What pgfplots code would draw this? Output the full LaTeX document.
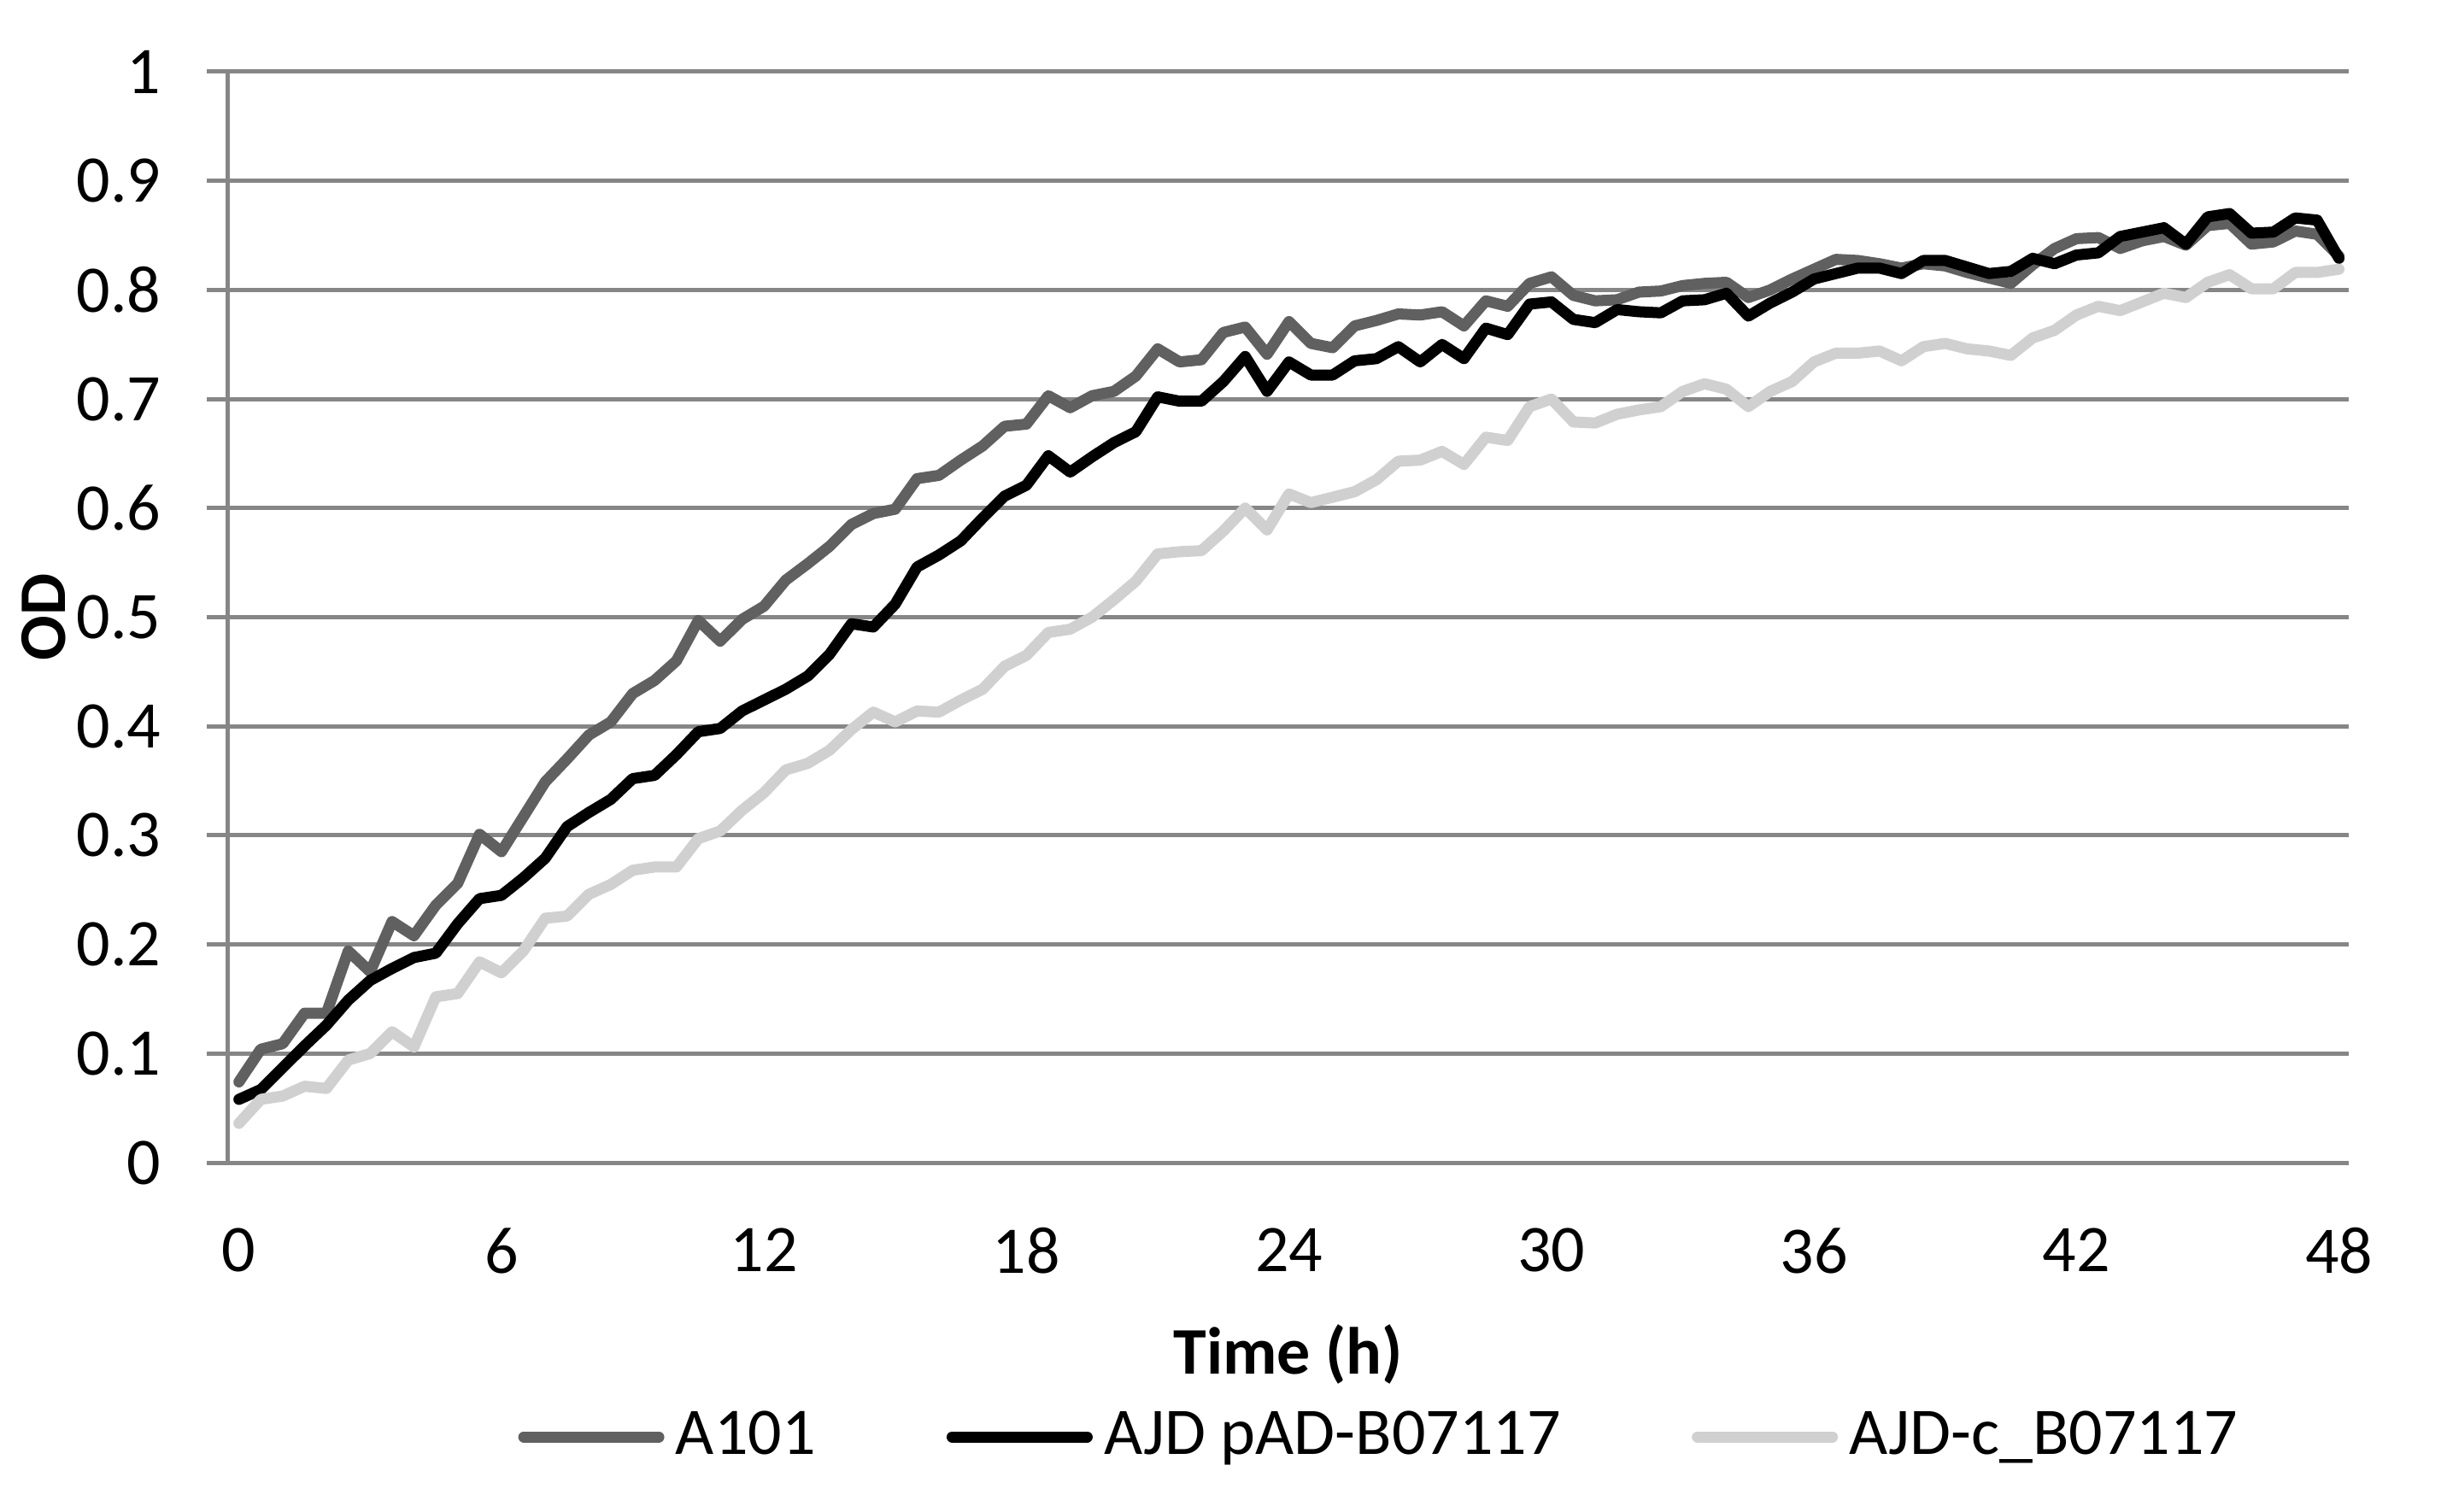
\documentclass[border=0pt]{standalone}
\usepackage{fontspec}
\setmainfont{Carlito}
\usepackage{pgfplots}
\usepackage{pgfplotstable}
\pgfplotsset{compat=1.18}
\definecolor{cA}{RGB}{96,96,96}
\definecolor{cC}{RGB}{208,208,208}
\definecolor{cGrid}{RGB}{134,134,134}
\pgfplotstableread{
t a b c
0 0.074 0.058 0.036
0.5 0.104 0.067 0.058
1 0.109 0.087 0.061
1.5 0.137 0.107 0.070
2 0.137 0.126 0.068
2.5 0.194 0.149 0.094
3 0.175 0.167 0.100
3.5 0.221 0.178 0.120
4 0.208 0.188 0.106
4.5 0.236 0.192 0.152
5 0.256 0.219 0.155
5.5 0.301 0.242 0.184
6 0.285 0.245 0.174
6.5 0.317 0.261 0.194
7 0.349 0.279 0.224
7.5 0.370 0.308 0.226
8 0.392 0.321 0.246
8.5 0.404 0.333 0.255
9 0.430 0.352 0.268
9.5 0.442 0.355 0.271
10 0.460 0.374 0.271
10.5 0.497 0.395 0.297
11 0.478 0.398 0.304
11.5 0.498 0.414 0.323
12 0.510 0.424 0.339
12.5 0.534 0.434 0.360
13 0.549 0.446 0.366
13.5 0.565 0.466 0.378
14 0.585 0.494 0.397
14.5 0.595 0.491 0.413
15 0.599 0.512 0.404
15.5 0.627 0.546 0.414
16 0.630 0.557 0.413
16.5 0.644 0.570 0.424
17 0.657 0.591 0.434
17.5 0.675 0.611 0.455
18 0.677 0.621 0.465
18.5 0.703 0.648 0.486
19 0.692 0.633 0.489
19.5 0.703 0.647 0.500
20 0.707 0.660 0.516
20.5 0.721 0.670 0.533
21 0.746 0.702 0.558
21.5 0.734 0.698 0.560
22 0.736 0.698 0.561
22.5 0.761 0.716 0.579
23 0.766 0.739 0.600
23.5 0.741 0.707 0.580
24 0.771 0.734 0.613
24.5 0.751 0.722 0.605
25 0.747 0.722 0.610
25.5 0.767 0.735 0.615
26 0.772 0.737 0.626
26.5 0.778 0.748 0.643
27 0.777 0.734 0.644
27.5 0.780 0.750 0.652
28 0.767 0.737 0.640
28.5 0.790 0.765 0.665
29 0.785 0.759 0.662
29.5 0.806 0.787 0.693
30 0.812 0.789 0.700
30.5 0.795 0.773 0.679
31 0.790 0.770 0.678
31.5 0.791 0.782 0.686
32 0.798 0.780 0.690
32.5 0.799 0.779 0.693
33 0.804 0.790 0.707
33.5 0.806 0.791 0.714
34 0.807 0.797 0.709
34.5 0.793 0.776 0.693
35 0.800 0.788 0.707
35.5 0.810 0.798 0.716
36 0.819 0.810 0.734
36.5 0.828 0.815 0.742
37 0.827 0.820 0.742
37.5 0.824 0.820 0.744
38 0.820 0.815 0.735
38.5 0.824 0.827 0.748
39 0.822 0.827 0.751
39.5 0.816 0.821 0.746
40 0.811 0.815 0.744
40.5 0.806 0.817 0.740
41 0.823 0.829 0.756
41.5 0.838 0.824 0.763
42 0.847 0.832 0.777
42.5 0.848 0.834 0.785
43 0.838 0.849 0.781
43.5 0.845 0.853 0.789
44 0.849 0.857 0.797
44.5 0.841 0.842 0.793
45 0.859 0.867 0.807
45.5 0.861 0.870 0.814
46 0.842 0.852 0.801
46.5 0.844 0.853 0.801
47 0.854 0.866 0.816
47.5 0.851 0.864 0.816
48 0.831 0.829 0.819
}\datatable
\begin{document}
\begin{tikzpicture}
\useasboundingbox (-41.95pt,-61.2pt) rectangle (386.6pt,204.15pt);
\begin{axis}[
  at={(0pt,0pt)}, anchor=origin,
  scale only axis, width=372.3pt, height=191.55pt,
  xmin=-0.25, xmax=48.22, ymin=0, ymax=1,
  axis x line*=bottom, axis y line*=left,
  axis line style={draw=cGrid, line width=0.75pt, -},
  xtick={0,6,...,48}, ytick={0,0.1,0.2,0.3,0.4,0.5,0.6,0.7,0.8,0.9,1},
  yticklabels={0,0.1,0.2,0.3,0.4,0.5,0.6,0.7,0.8,0.9,1},
  ymajorgrids, major grid style={draw=cGrid, line width=0.75pt},
  tick align=outside,
  x tick style={draw=none}, xtick style={draw=none},
  major y tick style={draw=cGrid, line width=0.75pt},
  major tick length=3.75pt,
  ticklabel style={font=\fontsize{11.7}{14}\selectfont},
  /pgf/number format/assume math mode=true,
  xticklabel style={yshift=-4.2pt},
  yticklabel style={xshift=-4.5pt},
  xlabel={Time (h)}, ylabel={OD},
  every axis x label/.style={at={(axis description cs:0.5,-0.1754)}, anchor=center, font=\fontsize{11.7}{14}\selectfont\bfseries},
  every axis y label/.style={at={(axis description cs:-0.087,0.5)}, anchor=center, rotate=90, font=\fontsize{11.7}{14}\selectfont\bfseries},
  legend columns=3,
  legend style={at={(axis description cs:0.545,-0.2514)}, anchor=center, draw=none, fill=none,
    font=\fontsize{11.7}{14}\selectfont,
    /tikz/every even column/.append style={column sep=21pt},
    /tikz/every odd column/.append style={column sep=0pt}},
  legend image code/.code={\draw[#1] (0pt,0pt) -- (23.7pt,0pt);},
  every axis plot/.append style={line width=1.95pt, line join=round, line cap=round},
]
\addplot[color=cA] table[x=t, y=a] {\datatable};
\addlegendentry{A101}
\addplot[color=black] table[x=t, y=b] {\datatable};
\addlegendentry{AJD pAD-B07117}
\addplot[color=cC] table[x=t, y=c] {\datatable};
\addlegendentry{AJD-c\_B07117}
\end{axis}
\end{tikzpicture}
\end{document}
